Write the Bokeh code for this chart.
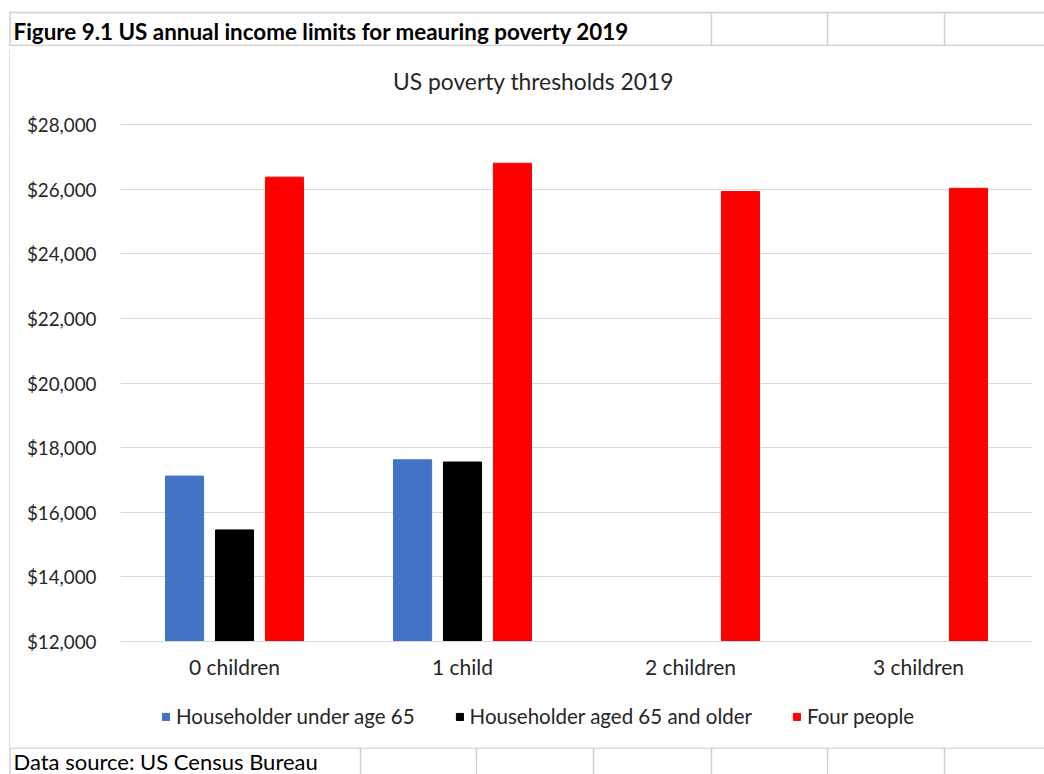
from bokeh.plotting import figure
from bokeh.layouts import column, row
from bokeh.models import (ColumnDataSource, FactorRange, Range1d, NumeralTickFormatter,
                          FixedTicker, Label, Legend, LegendItem)
from bokeh.transform import dodge
from bokeh.embed import file_html
from bokeh.resources import INLINE

# ---- data ----
categories = ["0 children", "1 child", "2 children", "3 children"]
under_65 = [17120, 17622, None, None]
aged_65_older = [15453, 17555, None, None]
four_people = [26370, 26801, 25926, 26026]
y_ticks = [12000, 14000, 16000, 18000, 20000, 22000, 24000, 26000, 28000]

series_names = ["Householder under age 65", "Householder aged 65 and older", "Four people"]
header_text = "Figure 9.1 US annual income limits for meauring poverty 2019"
chart_title = "US poverty thresholds 2019"
source_text = "Data source: US Census Bureau"

FONT = "Lato"
TXT = "#262626"
GRID = "#d0d0d0"
W, H = 1044, 774
HEAD_H, FOOT_Y = 46, 747          # header band and footer band (canvas px)
MAIN_X0 = 10                       # main figure starts here (left strip before)
FL, FR, FT, FB = 120, 1032, 50, FOOT_Y  # main frame box in canvas px
Y_MIN_PX, Y_MAX_PX = 641, 124      # canvas px of $12,000 and $28,000


def blank(width, height, x0, y0):
    f = figure(width=width, height=height, x_range=Range1d(x0, x0 + width),
               y_range=Range1d(y0 + height, y0), output_backend="svg",
               toolbar_location=None, tools="", x_axis_type=None, y_axis_type=None,
               min_border=0)
    f.outline_line_color = None
    f.xgrid.grid_line_color = None
    f.ygrid.grid_line_color = None
    f.background_fill_color = "white"
    f.border_fill_color = "white"
    return f


def lines(f, segs):
    f.segment(x0=[s[0] for s in segs], y0=[s[1] for s in segs],
              x1=[s[2] for s in segs], y1=[s[3] for s in segs],
              line_color=GRID, line_width=1.5)

# ---- header (spreadsheet row with figure caption) ----
head = blank(W, HEAD_H, 0, 0)
lines(head, [(9, 12, W, 12), (9, 45, W, 45), (9.5, 12, 9.5, HEAD_H),
             (711, 12, 711, 45), (827, 12, 827, 45), (944, 12, 944, 45)])
head.add_layout(Label(x=13, y=31, text=header_text, text_font=FONT,
                      text_font_style="bold", text_font_size="22.4px",
                      text_color="#000000", text_baseline="middle"))

# ---- footer (spreadsheet row with data source) ----
foot = blank(W, H - FOOT_Y, 0, FOOT_Y)
lines(foot, [(9, FOOT_Y + 0.5, W, FOOT_Y + 0.5), (9.5, FOOT_Y, 9.5, H)] +
      [(x, FOOT_Y, x, H) for x in [360, 476, 593, 711, 827, 944]])
foot.add_layout(Label(x=13, y=761, text=source_text, text_font=FONT,
                      text_font_size="22px", text_color="#000000",
                      text_baseline="middle"))

# ---- left strip (sheet border) ----
strip = blank(MAIN_X0, FOOT_Y - HEAD_H, 0, HEAD_H)
lines(strip, [(9.5, HEAD_H, 9.5, FOOT_Y)])

# ---- main chart ----
per_px = (28000 - 12000) / (Y_MIN_PX - Y_MAX_PX)
y_top = 12000 + (Y_MIN_PX - FT) * per_px
y_bot = 12000 - (FB - Y_MIN_PX) * per_px
p = figure(width=W - MAIN_X0, height=FOOT_Y - HEAD_H, x_range=FactorRange(*categories),
           y_range=Range1d(y_bot, y_top), output_backend="svg",
           toolbar_location=None, tools="")
p.min_border_left = FL - MAIN_X0
p.min_border_right = W - FR
p.min_border_top = FT - HEAD_H
p.min_border_bottom = 0
p.outline_line_color = None
p.background_fill_color = "white"
p.border_fill_color = "white"


def src(vals):
    c = [k for k, v in zip(categories, vals) if v is not None]
    t = [v for v in vals if v is not None]
    return ColumnDataSource(dict(cat=c, top=t))


bw = 0.167
off = 0.219
r1 = p.vbar(x=dodge("cat", -off, range=p.x_range), top="top", bottom=12000, width=bw,
            source=src(under_65), fill_color="#4472C4", line_color="#4472C4")
r2 = p.vbar(x=dodge("cat", 0, range=p.x_range), top="top", bottom=12000, width=bw,
            source=src(aged_65_older), fill_color="#000000", line_color="#000000")
r3 = p.vbar(x=dodge("cat", off, range=p.x_range), top="top", bottom=12000, width=bw,
            source=src(four_people), fill_color="#FF0000", line_color="#FF0000")

p.yaxis.ticker = FixedTicker(ticks=y_ticks)
p.yaxis.formatter = NumeralTickFormatter(format="$0,0")
p.yaxis.axis_line_color = None
p.yaxis.major_tick_line_color = None
p.yaxis.minor_tick_line_color = None
p.yaxis.major_label_text_font = FONT
p.yaxis.major_label_text_font_size = "18.8px"
p.yaxis.major_label_text_color = TXT
p.yaxis.major_label_standoff = 18

p.xaxis.fixed_location = 12000
p.xaxis.axis_line_color = "#d9d9d9"
p.xaxis.major_tick_line_color = None
p.xaxis.minor_tick_line_color = None
p.xaxis.major_label_text_font = FONT
p.xaxis.major_label_text_font_size = "21px"
p.xaxis.major_label_text_color = TXT
p.xaxis.major_label_standoff = 6
p.xgrid.grid_line_color = None
p.ygrid.ticker = FixedTicker(ticks=y_ticks)
p.ygrid.grid_line_color = "#d9d9d9"

p.add_layout(Label(x=533 - FL, y=FB - 80, x_units="screen", y_units="screen",
                   text=chart_title, text_font=FONT, text_font_size="22.8px",
                   text_color=TXT, text_align="center", text_baseline="middle"))

legend = Legend(items=[LegendItem(label=series_names[0], renderers=[r1]),
                       LegendItem(label=series_names[1], renderers=[r2]),
                       LegendItem(label=series_names[2], renderers=[r3])],
                orientation="horizontal", location=(161 - FL, FB - 728),
                glyph_width=9, glyph_height=9, label_standoff=6, spacing=40,
                padding=0, margin=0, border_line_color=None, background_fill_alpha=0,
                label_text_font=FONT, label_text_font_size="20.5px",
                label_text_color=TXT, label_height=20)
p.add_layout(legend, "center")

layout = column(head, row(strip, p, spacing=0), foot, spacing=0)
open("out.html", "w").write(file_html(layout, INLINE))
